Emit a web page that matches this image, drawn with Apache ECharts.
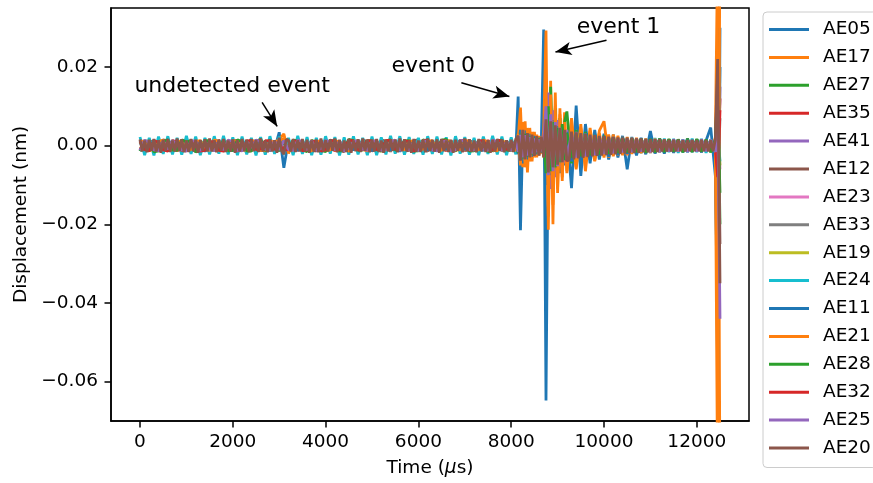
<!DOCTYPE html>
<html>
<head>
<meta charset="utf-8">
<title>Displacement</title>
<script src="https://cdn.jsdelivr.net/npm/echarts@6/dist/echarts.min.js"></script>
<style>
  html, body { margin: 0; padding: 0; background: #fff; }
  #main { width: 873px; height: 483px; }
</style>
</head>
<body>
<div id="main"></div>
<script>
// sample times (us) used by most sensors
var times = [
  0,100,200,300,400,500,600,700,800,900,
  1000,1100,1200,1300,1400,1500,1600,1700,1800,1900,
  2000,2100,2200,2300,2400,2500,2600,2700,2800,2900,
  3000,3100,3200,3300,3400,3500,3600,3700,3800,3900,
  4000,4100,4200,4300,4400,4500,4600,4700,4800,4900,
  5000,5100,5200,5300,5400,5500,5600,5700,5800,5900,
  6000,6100,6200,6300,6400,6500,6600,6700,6800,6900,
  7000,7100,7200,7300,7400,7500,7600,7700,7800,7900,
  8000,8100,
  8150,8200,8250,8300,8350,8400,8450,8500,8550,8600,8650,8700,8750,8800,8850,8900,8950,9000,9050,9100,9150,9200,
  9300,9400,9500,9600,9700,9800,9900,
  10000,10100,10200,10300,10400,10500,10600,10700,10800,10900,
  11000,11100,11200,11300,11400,11500,11600,11700,11800,11900,
  12000,12100,12200,12300,12400,
  12450,12500
];
// AE20 is read on a finer 50 us clock, 0 .. 12500
var timesFine = [];
for (var t = 0; t <= 12500; t += 50) timesFine.push(t);

// displacement, in units of 1e-4 nm
var UNIT = 1e-4;

var ae05 = [
  8,-12,10,-9,14,-11,7,-15,12,-8, 11,-13,9,-10,15,-12,8,-9,13,-14, 10,-11,12,-8,9,-13,11,-10,14,-9,
  34,-56,14,-10,9,-12,11,-8,13,-10, 9,-11,12,-9,10,-14,8,-12,11,-10, 13,-9,10,-12,9,-11,14,-8,12,-10,
  10,-13,9,-11,12,-9,11,-14,8,-12, 11,-10,13,-9,10,-12,9,-11,14,-10, 12,-9,
  125,-215,30,-40,25,-30,20,-25,18,-20,15,295,-648,60,-90,70,-60,50,-70,45,-50,40,
  -108,102,-77,55,-45,40,-35, 30,-35,28,-30,25,-60,22,-25,20,-22, 37,-20,18,-20,16,-18,15,-17,14,-16, 15,-14,13,46,-77,
  -420,200
];
var ae17 = [
  -9,11,-13,8,-10,12,-11,9,-14,10, -12,9,-11,13,-8,10,-12,11,-9,14, -10,12,-9,11,-13,8,-11,12,-10,9,
  16,30,-20,11,-9,12,-10,8,-12,10, -11,9,-13,10,-9,12,-10,11,-12,8, -10,13,-9,11,-12,10,-8,12,-11,9,
  -13,10,-11,9,-12,11,-10,13,-9,10, -12,9,-10,12,-11,8,-13,10,-9,11, -10,13,
  20,97,-55,62,-68,45,-40,35,-30,25,-20,40,293,-214,165,-200,135,-110,95,-80,85,-65,
  70,-60,55,-65,45,-40,38, 62,-30,28,-25,22,-24,20,-18,17,-16, 15,-17,14,-15,13,-14,12,-13,12,-11, 13,-12,11,-14,20,
  500,-900
];
var ae27 = [
  14,-10,12,-16,9,-13,15,-11,10,-14, 12,-15,10,-12,16,-9,13,-11,14,-10, 15,-12,9,-14,11,-16,12,-10,13,-11,
  10,-14,12,-11,15,-9,13,-12,10,-15, 12,-10,14,-13,9,-12,16,-11,10,-14, 11,-15,13,-10,12,-9,14,-12,10,-13,
  16,-11,10,-14,12,-10,13,-15,11,-12, 10,-13,15,-11,9,-14,12,-10,16,-12, 11,-14,
  15,-25,35,-30,28,-25,22,-20,18,-16,14,-20,120,-80,150,-70,95,-60,70,-50,60,87,
  -45,40,-38,35,-30,28,-26, 25,-22,20,-21,19,-18,17,-19,16,-17, 18,-15,17,-16,15,-17,16,-14,18,-15, 16,-17,14,-16,15,
  150,-200
];
var ae35 = [
  -11,13,-9,12,-14,10,-12,9,-13,11, -10,14,-12,9,-11,13,-10,12,-14,9, -13,10,-11,14,-9,12,-13,10,-12,11,
  -8,12,-10,11,-13,9,-12,14,-10,12, -9,12,-14,10,-11,13,-9,11,-12,10, -12,9,-13,11,-10,14,-11,9,-12,13,
  -10,12,-9,13,-11,10,-14,12,-10,11, -13,11,-10,9,-12,14,-11,10,-13,12, -9,11,
  -15,30,-28,25,-22,20,-18,17,-15,14,-13,12,80,-60,70,-55,50,-45,40,-38,35,-32,
  30,-28,26,-25,23,-22,20, -19,18,-17,16,-17,15,-16,14,-15,13, -14,12,-13,14,-12,13,-11,12,-13,11, -12,13,-11,12,-13,
  -100,120
];
var ae41 = [
  12,-14,11,-10,13,-12,9,-15,12,-11, 10,-12,14,-11,9,-13,12,-10,15,-12, 11,-13,10,-15,12,-9,14,-11,10,-13,
  14,-12,9,-13,11,-10,14,-12,9,-11, 13,-11,10,-14,12,-10,15,-12,9,-11, 12,-14,10,-11,13,-12,11,-9,14,-13,
  10,-12,13,-11,9,-15,12,-10,11,-14, 13,-10,12,-14,10,-11,9,-13,12,-10, 14,-12,
  20,-35,40,-35,30,-28,25,-22,20,-18,16,-20,90,135,-110,90,-80,65,-55,50,-45,40,
  -38,35,-32,30,-28,27,-25, 24,-22,21,-20,19,-21,18,-17,16,-18, 15,-16,17,-15,14,-16,15,-14,16,-15, 14,-16,15,-14,16,
  -200,150
];
var ae12 = [
  -10,-14,12,9,-13,15,11,-12,-6,14, 13,-9,-15,11,-4,-12,15,10,-14,-11, 14,12,-10,-15,13,3,-14,12,9,-13,
  -12,15,-11,13,10,-14,-7,12,-15,5, -11,14,10,-13,-15,12,-9,-4,14,11, -13,-10,14,12,-15,8,11,-14,-12,13,
  15,-9,-14,11,-12,10,14,-15,-6,12, -13,12,8,-14,-11,13,-15,10,12,-14, 11,-13,
  -20,35,-30,28,-25,22,-20,18,-16,15,-14,18,-60,70,-55,50,-45,40,-36,33,-30,28,
  -27,25,-24,22,-21,20,-19, 18,-17,16,-15,16,-14,15,-13,14,-15, 13,-14,12,-13,14,-12,13,-14,12,-13, 14,-12,13,-14,12,
  180,-250
];
var ae23 = [
  13,-11,10,-12,14,-9,11,-13,10,-12, 9,-13,11,-10,12,-14,10,-11,13,-9, 12,-10,14,-11,9,-12,13,-10,11,-14,
  10,-9,12,-10,13,-11,9,-14,12,-10, 11,-13,9,-12,14,-10,12,-11,10,-13, 14,-11,12,-9,10,-13,11,-12,9,-10,
  12,-14,11,-10,13,-12,10,-9,14,-11, 9,-12,10,-13,11,-10,14,-12,10,-11, 12,-13,
  12,-20,22,-20,18,-17,15,-14,13,-12,12,-14,50,-45,40,-38,35,-30,28,-26,24,-22,
  21,-20,19,-18,17,-16,15, -15,14,-13,14,-12,13,-12,11,-13,12, -11,12,-10,11,-12,10,-11,12,-10,11, -12,10,-11,12,-10,
  80,-60
];
var ae33 = [
  -12,10,-14,12,-11,9,-13,14,-10,11, -13,12,-9,11,-14,10,-12,9,-11,13, -11,14,-12,10,-9,13,-10,12,-14,11,
  -13,11,-9,12,-10,11,-13,10,-12,14, -10,12,-11,9,-13,14,-10,12,-11,10, -13,11,-12,10,-14,9,-11,13,-10,12,
  -11,10,-13,12,-9,14,-12,11,-13,10, -12,14,-11,13,-10,9,-12,11,-14,13, -11,12,
  -14,22,-24,22,-20,18,-16,15,-14,13,-12,14,-45,50,-42,38,-34,30,-28,26,-24,22,
  -21,20,-19,18,-17,16,-15, 15,-14,13,-14,12,-13,12,-11,13,-12, 11,-12,10,-11,12,-10,11,-12,10,-11, 12,-10,11,-12,10,
  -90,70
];
var ae19 = [
  11,-13,12,-10,9,-14,13,-11,12,-10, 14,-11,10,-13,12,-9,11,-12,10,-14, 9,-12,13,-10,11,-14,10,-13,12,-9,
  11,-12,10,-14,10,-12,11,-9,13,-11, 12,-9,11,-14,10,-12,13,-10,14,-11, 10,-12,9,-13,11,-10,12,-14,13,-9,
  13,-11,12,-10,14,-13,9,-11,10,-12, 11,-14,10,-12,13,-9,12,-11,10,-13, 14,-10,
  10,-18,20,-18,16,-15,14,-13,12,-12,11,-13,40,-38,35,-32,30,-27,25,-23,21,-20,
  19,-18,17,-16,15,-15,14, -13,14,-12,13,-12,11,-12,13,-11,12, -10,11,-12,10,-11,12,-10,11,-12,10, -11,12,-10,11,-12,
  60,-50
];
var ae24 = [
  22,-24,20,-25,23,-21,24,-22,20,-23, 25,-21,23,-24,20,-22,24,-20,25,-22, 21,-24,23,-22,20,-25,22,-23,24,-21,
  23,-22,20,-24,25,-21,22,-24,20,-23, 24,-20,22,-25,21,-23,24,-22,20,-24, 23,-24,21,-22,25,-20,24,-23,22,-21,
  20,-23,24,-21,23,-22,21,-25,24,-20, 22,-23,20,-24,23,-21,25,-22,23,-24, 21,-22,
  18,-25,26,-24,22,-21,20,-19,18,-18,17,-19,45,-40,38,-35,32,-30,28,-26,25,-24,
  30,-28,26,-25,24,-23,22, -21,20,-20,19,-18,19,-17,18,-19,17, -18,19,-17,18,-16,17,-18,16,-17,18, -16,17,-18,16,-17,
  40,-40
];
var ae11 = [
  -13,11,-10,15,-12,9,-14,12,-11,10, -11,14,-12,10,-15,11,-9,13,-12,10, -14,10,-12,13,-11,15,-9,11,-13,12,
  -10,14,-12,9,-13,11,-14,10,-11,13, -12,14,-10,11,-13,9,-12,15,-11,10, -14,11,-9,13,-12,10,-15,12,-10,11,
  -11,13,-12,9,-14,11,-10,12,-13,15, -10,12,-14,11,-13,10,-12,14,-9,11, -12,13,
  -20,40,-45,38,-35,30,-28,25,-22,20,-18,22,-100,85,-75,65,-58,50,-45,40,-38,35,
  -40,32,-50,30,-35,28,-26, 24,-28,22,-24,21,-20,19,-22,18,-19, 17,-18,16,-17,15,-16,14,-15,16,-14, 15,-16,14,-15,13,
  -600,300
];
var ae21 = [
  10,12,-13,-9,11,14,-12,-10,9,13, -12,-10,11,13,-9,-12,14,11,-10,-12, 13,11,-10,-12,14,9,-12,-13,11,10,
  12,18,-14,-10,12,9,-11,-13,10,12, -13,-11,12,10,-9,-14,11,12,-10,-13, 11,12,-14,-10,12,13,-9,-11,13,10,
  -12,-9,11,13,-10,-12,14,11,-12,-10, 13,12,-9,-11,14,10,-12,-13,11,9, -12,-11,
  30,-50,60,-55,45,-40,35,-30,28,-25,22,-30,150,-180,130,-150,100,-120,80,-90,60,-70,
  55,-55,45,-45,38,-38,32, -30,28,-27,25,-24,22,-21,20,-19,18, -18,17,-16,15,-15,14,-14,13,-13,12, -13,12,-12,11,-12,
  -900,600
];
var ae28 = [
  -14,12,11,-16,-13,10,15,-11,-12,14, 10,13,-16,-12,11,14,-12,-10,15,-13, -12,15,10,-13,-14,11,16,-12,-11,10,
  -13,12,-10,14,12,-11,-15,13,10,-12, -15,11,12,-14,-10,16,13,-12,-11,13, 12,-10,-14,12,15,-11,-10,13,12,-14,
  -13,15,11,-10,-12,14,16,-11,-13,12, 11,-14,-13,12,10,-15,-12,13,14,-11, -12,10,
  -18,30,-32,30,-27,25,-22,20,-19,18,-16,18,-70,100,-65,60,-55,45,-42,55,-36,32,
  -30,28,-27,25,-24,23,-22, 21,-20,19,-18,19,-17,18,-16,17,-18, 16,-17,18,-16,17,-15,16,-17,15,-16, 17,-15,16,-17,15,
  100,-120
];
var ae32 = [
  11,-10,-13,12,9,-11,-14,13,10,-12, -13,11,10,-14,-12,9,11,-12,-14,10, 10,-13,-12,11,14,-10,-9,12,13,-11,
  12,-11,-10,12,10,-13,-11,9,12,-14, -11,12,13,-10,-9,14,12,-11,-10,13, 12,-10,-11,13,14,-9,-10,12,11,-14,
  -9,12,14,-11,-10,13,12,-10,-11,12, 14,-11,-10,12,13,-10,-11,14,12,-9, -10,13,
  14,-22,24,-22,20,-18,16,-15,14,-13,12,-14,55,-48,45,-40,36,-32,30,-28,26,-40,
  24,-22,21,-20,19,-18,17, -16,15,-15,14,-13,14,-12,13,-12,11, -12,13,-11,12,-13,11,-12,10,-11,12, -10,11,-12,10,-11,
  -80,90
];
var ae25 = [
  -12,14,8,-11,-13,12,-9,13,4,-10, -14,11,12,-13,6,-9,-13,12,-11,14, 10,-12,-13,11,-5,14,11,-9,-12,13,
  -11,13,-10,-12,14,10,-11,13,-12,-7, 13,10,-11,12,-14,-6,10,13,-9,-12, 11,13,-12,-10,9,14,-13,5,-12,10,
  -14,12,10,-11,-13,9,12,-14,-11,13, 12,-10,-11,13,-9,-12,14,10,-12,11, -13,12,
  -16,28,-30,27,-25,22,-20,18,-17,16,-15,17,100,-75,80,-65,60,-52,46,-42,38,-35,
  32,-30,28,-27,25,-24,22, -21,20,-19,18,-17,18,-16,17,-15,16, -17,15,-16,14,-15,16,-14,15,-16,14, -15,16,-14,15,-16,
  100,-440
];
// AE20 on the 50 us clock (251 samples)
var ae20 = [
  16,-14,13,-17,15,-13,17,-15,14,-18, 15,-13,17,-16,13,-15,18,-14,16,-17,
  13,-16,17,-14,15,-18,14,-13,16,-15, 18,-15,14,-17,16,-13,17,-16,13,-15,
  16,-18,14,-15,17,-13,15,-17,16,-14, 14,-16,18,-15,13,-17,16,-15,14,-18,
  20,-12,-22,16,14,-15,17,-16,14,-15, 17,-14,15,-18,13,-16,15,-17,18,-14,
  14,-15,16,-13,18,-17,15,-15,13,-16, 17,-18,13,-14,16,-16,18,-13,15,-17,
  15,-15,17,-16,13,-18,14,-15,16,-13, 15,-17,18,-14,16,-15,13,-18,17,-15,
  13,-16,15,-17,18,-14,15,-15,16,-18, 17,-14,13,-16,15,-18,15,-13,14,-17,
  18,-15,16,-15,13,-17,17,-14,15,-16, 14,-18,15,-15,17,-13,16,-17,14,-15,
  15,-16,17,
  25,-38,40,-35,32,-30,28,-26,24,-25,22,-30,67,-68,62,-55,52,-48,45,-42,40,-38,
  -37,36,-35,34,-32,32,-31,30,-29,28, -27,27,-26,25,-25,24,-24,23,-23,22,
  -22,21,-21,20,-20,20,-19,19,-19,18, -18,18,-17,17,-17,16,-16,16,-16,16,
  -15,16,-15,15,-15,15,-14,15,-14,14, -15,14,-14,15,-14,14,-14,15,-14,14,
  -15,14,-14,15,
  220,-350
];

var sensorNames = ['AE05','AE17','AE27','AE35','AE41','AE12','AE23','AE33',
                   'AE19','AE24','AE11','AE21','AE28','AE32','AE25','AE20'];
var sensorValues = [ae05, ae17, ae27, ae35, ae41, ae12, ae23, ae33,
                    ae19, ae24, ae11, ae21, ae28, ae32, ae25, ae20];
var sensorColors = ['#1f77b4','#ff7f0e','#2ca02c','#d62728','#9467bd','#8c564b','#e377c2','#7f7f7f',
                    '#bcbd22','#17becf','#1f77b4','#ff7f0e','#2ca02c','#d62728','#9467bd','#8c564b'];

var xTicks = [0, 2000, 4000, 6000, 8000, 10000, 12000];
var yTicks = [-0.06, -0.04, -0.02, 0, 0.02];

var FONT = 'DejaVu Sans';

var series = sensorNames.map(function (name, k) {
  var vals = sensorValues[k];
  var ts = name === 'AE20' ? timesFine : times;
  if (vals.length !== ts.length) console.warn(name, vals.length, ts.length);
  var n = Math.min(vals.length, ts.length);
  var pts = [];
  for (var i = 0; i < n; i++) pts.push([ts[i], vals[i] * UNIT]);
  return {
    name: name,
    type: 'line',
    symbol: 'none',
    showSymbol: false,
    silent: true,
    clip: true,
    lineStyle: { width: 2.8, color: sensorColors[k] },
    itemStyle: { color: sensorColors[k] },
    emphasis: { disabled: true },
    data: pts
  };
});

// annotations (text + arrows), placed in data coordinates
var last = series[series.length - 1];
last.markPoint = {
  silent: true,
  symbol: 'rect',
  symbolSize: 1,
  itemStyle: { color: 'rgba(0,0,0,0)' },
  label: {
    show: true, position: 'inside', formatter: '{b}',
    color: '#000', fontSize: 22, fontFamily: FONT
  },
  data: [
    { name: 'undetected event', coord: [1985, 0.0150] },
    { name: 'event 0', coord: [6321, 0.0201] },
    { name: 'event 1', coord: [10313, 0.0302] }
  ]
};
last.markLine = {
  silent: true,
  symbol: ['none', 'arrow'],
  symbolSize: [10, 16],
  label: { show: false },
  lineStyle: { color: '#000', width: 1.5, type: 'solid' },
  data: [
    [{ coord: [2632, 0.0110] }, { coord: [2956, 0.0049] }],
    [{ coord: [6926, 0.0160] }, { coord: [7961, 0.0125] }],
    [{ coord: [10054, 0.0268] }, { coord: [8954, 0.0238] }]
  ]
};

var chart = echarts.init(document.getElementById('main'));
chart.setOption({
  animation: false,
  backgroundColor: '#fff',
  textStyle: { fontFamily: FONT },
  grid: {
    left: 111, top: 8, right: 124, bottom: 61,
    show: true, borderColor: '#000', borderWidth: 1.5
  },
  legend: {
    data: sensorNames,
    orient: 'vertical',
    left: 763, top: 12,
    padding: [8, 6, 10, 6],
    icon: 'rect',
    itemWidth: 40, itemHeight: 3,
    itemGap: 8.9,
    borderColor: '#cccccc', borderWidth: 1, borderRadius: 4,
    backgroundColor: '#fff',
    textStyle: { color: '#000', fontSize: 18.5, fontFamily: FONT, lineHeight: 19, padding: [0, 0, 0, 9] }
  },
  xAxis: {
    type: 'value',
    min: -625, max: 13125,
    name: '{n|Time (}{i|μ}{n|s)}',
    nameLocation: 'middle',
    nameGap: 38,
    nameTextStyle: {
      rich: {
        n: { fontSize: 18.5, color: '#000', fontFamily: FONT },
        i: { fontSize: 18.5, color: '#000', fontFamily: FONT, fontStyle: 'italic' }
      }
    },
    axisLine: { show: true, onZero: false, lineStyle: { color: '#000', width: 1.5 } },
    axisTick: { show: true, length: 6.5, customValues: xTicks, lineStyle: { color: '#000', width: 1.5 } },
    axisLabel: {
      customValues: xTicks, margin: 12, fontSize: 18.5, color: '#000', fontFamily: FONT,
      formatter: function (v) { return String(v); }
    },
    splitLine: { show: false }
  },
  yAxis: {
    type: 'value',
    min: -0.07, max: 0.035,
    name: 'Displacement (nm)',
    nameLocation: 'middle',
    nameGap: 78,
    nameTextStyle: { fontSize: 18.5, color: '#000', fontFamily: FONT },
    axisLine: { show: true, onZero: false, lineStyle: { color: '#000', width: 1.5 } },
    axisTick: { show: true, length: 6.5, customValues: yTicks, lineStyle: { color: '#000', width: 1.5 } },
    axisLabel: {
      customValues: yTicks, margin: 13, fontSize: 18.5, color: '#000', fontFamily: FONT,
      formatter: function (v) {
        var s = Math.abs(v).toFixed(2);
        return v < -1e-9 ? '\u2212' + s : s;
      }
    },
    splitLine: { show: false }
  },
  series: series
});
</script>
</body>
</html>
